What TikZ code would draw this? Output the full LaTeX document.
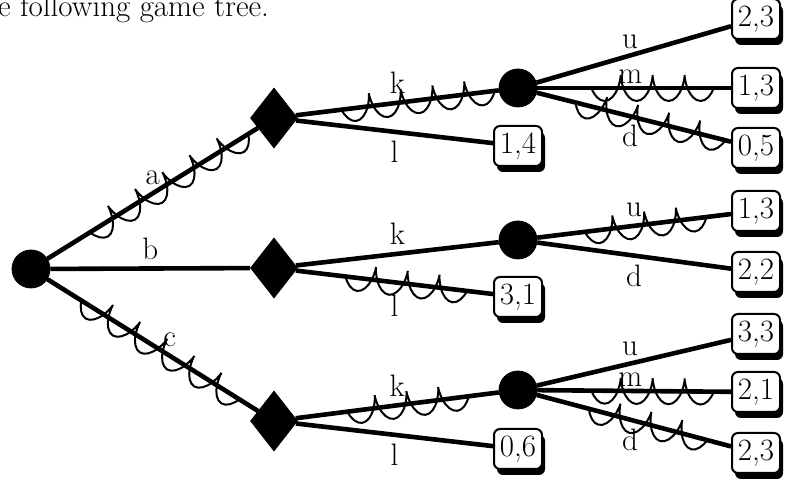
\documentclass[tikz,border=0pt]{standalone}
\usetikzlibrary{shapes.geometric, shadows, decorations.pathmorphing}
\begin{document}
\begin{tikzpicture}[x=0.5pt, y=-0.5pt,
    every node/.style={font=\fontsize{15.5}{18}\selectfont},
    chance/.style={draw, circle, fill=black, minimum size=19pt, inner sep=0pt},
    player/.style={draw, diamond, fill=black, minimum width=23.5pt, minimum height=30pt, inner sep=0pt},
    payoff/.style={draw, fill=white, rounded corners=3pt, line width=1pt, minimum width=24pt, minimum height=20pt, inner sep=1pt,
        drop shadow={shadow xshift=1.5pt, shadow yshift=-3pt, fill=black, opacity=1}},
    branch/.style={line width=2.3pt},
    chosen/.style 2 args={line width=1pt, decorate,
        decoration={coil, amplitude=6.5pt, segment length=16pt, aspect=0.4, mirror, pre length=#1, post length=#2}}]
    \useasboundingbox (0,0) rectangle (788,480);
    % Text
    \node[anchor=base west, inner sep=0pt] (intro) at (-29,17) {the following game tree.};
    % Nodes
    \node[chance] (root) at (31,269) {};
    \node[player] (p1) at (274,118) {};
    \node[player] (p2) at (274,268) {};
    \node[player] (p3) at (274,421) {};
    \node[chance] (c1) at (518,88) {};
    \node[chance] (c2) at (518,240) {};
    \node[chance] (c3) at (518,390) {};
    \node[payoff] (l1) at (518,146) {1,4};
    \node[payoff] (l2) at (518,297) {3,1};
    \node[payoff] (l3) at (518,449) {0,6};
    \node[payoff] (t1) at (756,19) {2,3};
    \node[payoff] (t2) at (756,88) {1,3};
    \node[payoff] (t3) at (756,148) {0,5};
    \node[payoff] (m1) at (756,211) {1,3};
    \node[payoff] (m2) at (756,272) {2,2};
    \node[payoff] (b1) at (756,334) {3,3};
    \node[payoff] (b2) at (756,392) {2,1};
    \node[payoff] (b3) at (756,453) {2,3};
    % Branches
    \draw[branch] (root) -- node[above] {a} (p1);
    \draw[branch] (root) -- node[above] {b} (p2);
    \draw[branch] (root) -- node[pos=0.58, above] {c} (p3);
    \draw[branch] (p1) -- node[above] {k} (c1);
    \draw[branch] (p1) -- node[below] {l} (l1);
    \draw[branch] (p2) -- node[above] {k} (c2);
    \draw[branch] (p2) -- node[below, inner sep=5pt] {l} (l2);
    \draw[branch] (p3) -- node[above] {k} (c3);
    \draw[branch] (p3) -- node[below] {l} (l3);
    \draw[branch] (c1) -- node[pos=0.48, above, inner sep=2pt] {u} (t1);
    \draw[branch] (c1) -- node[pos=0.48, above, inner sep=1pt] {m} (t2);
    \draw[branch] (c1) -- node[pos=0.48, below] {d} (t3);
    \draw[branch] (c2) -- node[pos=0.5, above] {u} (m1);
    \draw[branch] (c2) -- node[pos=0.5, below] {d} (m2);
    \draw[branch] (c3) -- node[pos=0.48, above, inner sep=3pt] {u} (b1);
    \draw[branch] (c3) -- node[pos=0.48, above, inner sep=1pt] {m} (b2);
    \draw[branch] (c3) -- node[pos=0.48, below] {d} (b3);
    % Marks of the chosen moves
    \draw[chosen={25pt}{2pt}] (root) -- (p1);
    \draw[chosen={20pt}{2pt}] (root) -- (p3);
    \draw[chosen={23pt}{0pt}] (p1) -- (c1);
    \draw[chosen={27pt}{6pt}] (c1) -- (t2);
    \draw[chosen={20pt}{2pt}] (c1) -- (t3);
    \draw[chosen={25pt}{5pt}] (p2) -- (l2);
    \draw[chosen={24pt}{6pt}] (c2) -- (m1);
    \draw[chosen={26pt}{2pt}] (p3) -- (c3);
    \draw[chosen={27pt}{5pt}] (c3) -- (b2);
    \draw[chosen={27pt}{3pt}] (c3) -- (b3);
\end{tikzpicture}
\end{document}
